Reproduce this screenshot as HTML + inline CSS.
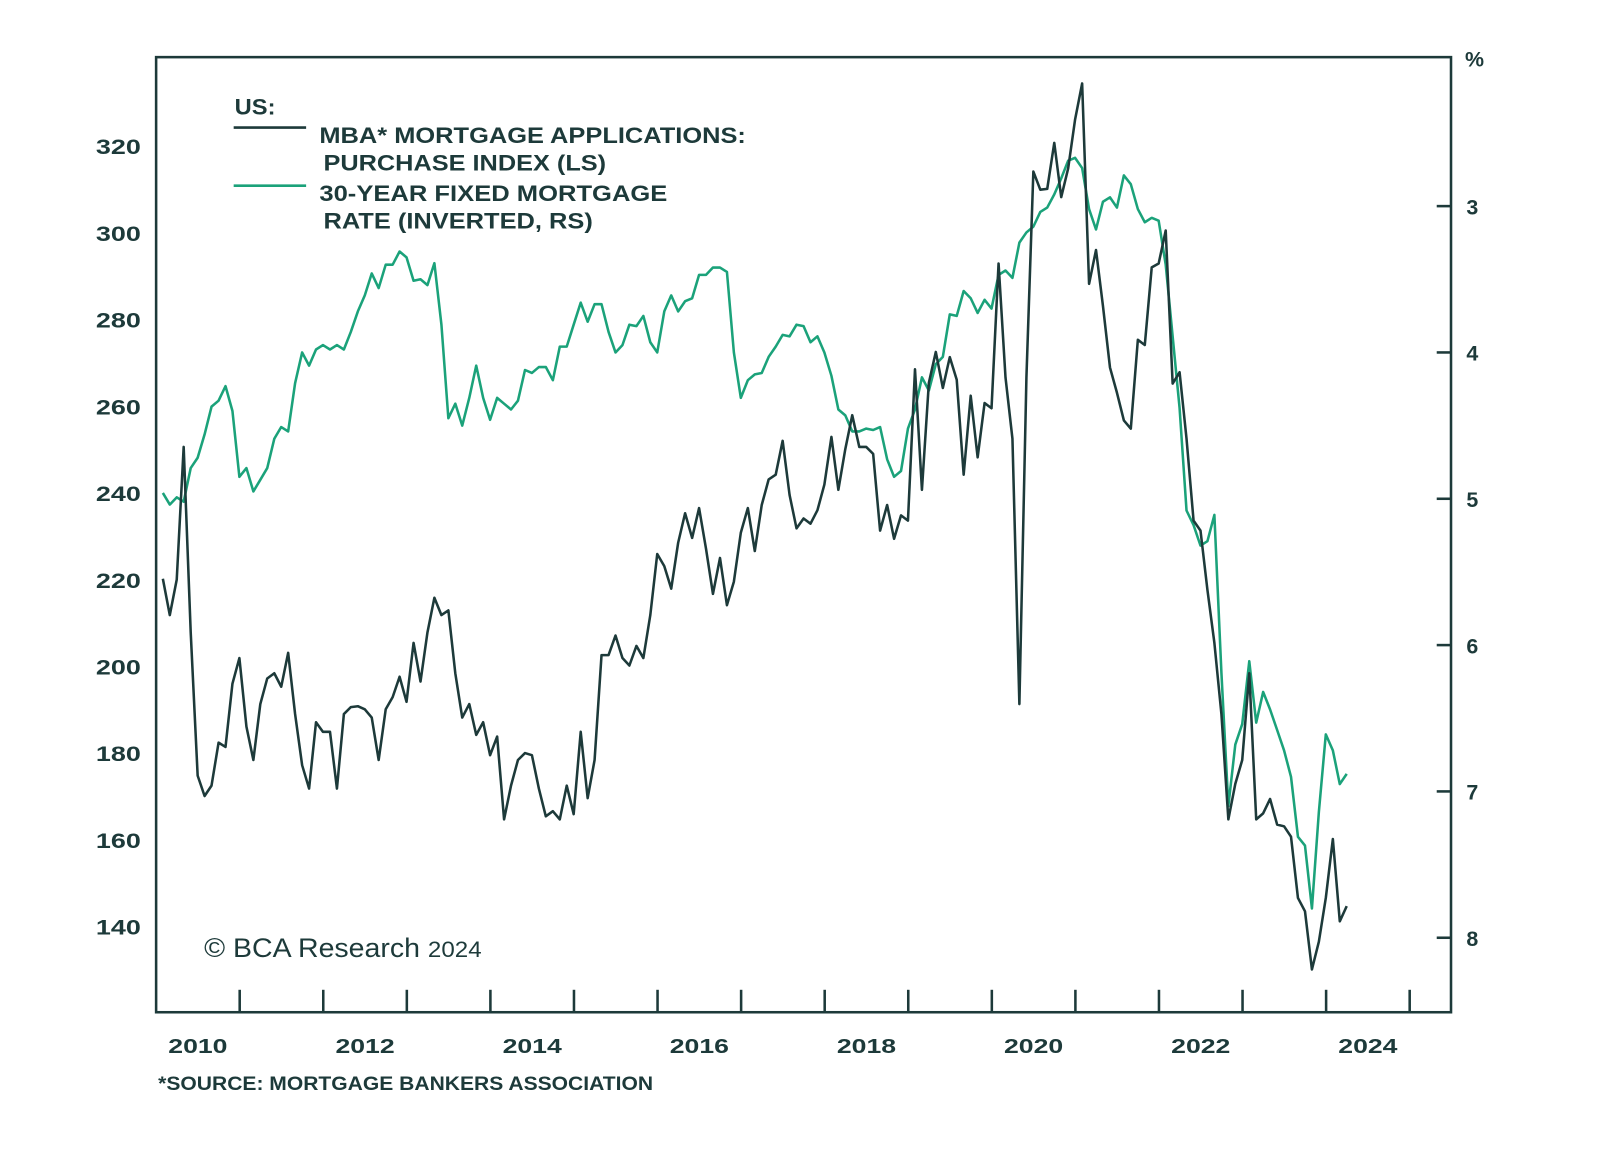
<!DOCTYPE html>
<html><head><meta charset="utf-8">
<style>
html,body{margin:0;padding:0;background:#fff;}
svg{display:block;}
text{font-family:"Liberation Sans","DejaVu Sans",sans-serif;fill:#1d3a3a;}
</style></head>
<body>
<svg id="chart" width="1600" height="1158" viewBox="0 0 1600 1158" xmlns="http://www.w3.org/2000/svg">
 <g transform="scale(1.0204)">
  <rect x="153" y="56" width="1269" height="936" fill="none" stroke="#1d3a3a" stroke-width="2.5"/>
  <g id="ticks"></g>
  <g id="series"></g>
  <g>
    <text x="230" y="112" font-size="22" font-weight="bold" textLength="40" lengthAdjust="spacingAndGlyphs">US:</text>
    <line x1="229" y1="125" x2="300" y2="125" stroke="#1d3a3a" stroke-width="2.5"/>
    <text x="313" y="140" font-size="22" font-weight="bold" textLength="418" lengthAdjust="spacingAndGlyphs">MBA* MORTGAGE APPLICATIONS:</text>
    <text x="317" y="167" font-size="22" font-weight="bold" textLength="277" lengthAdjust="spacingAndGlyphs">PURCHASE INDEX (LS)</text>
    <line x1="229" y1="182" x2="300" y2="182" stroke="#1ba27a" stroke-width="2.5"/>
    <text x="313" y="197" font-size="22" font-weight="bold" textLength="341" lengthAdjust="spacingAndGlyphs">30-YEAR FIXED MORTGAGE</text>
    <text x="317" y="224" font-size="22" font-weight="bold" textLength="264" lengthAdjust="spacingAndGlyphs">RATE (INVERTED, RS)</text>
  </g>
  <text x="200" y="938" font-size="26" font-family="Liberation Serif, serif" textLength="272" lengthAdjust="spacingAndGlyphs">© BCΑ Research <tspan font-size="22">2024</tspan></text>
  <text x="1445" y="65" font-size="21" font-weight="bold" text-anchor="middle">%</text>
  <text x="155" y="1068" font-size="19" font-weight="bold" textLength="485" lengthAdjust="spacingAndGlyphs">*SOURCE: MORTGAGE BANKERS ASSOCIATION</text>
 </g>
</svg>
<script>
const startYear = 2010.08;
const purchaseIndex = [220.2,211.8,220,250.6,207.8,174.8,170.1,172.5,182.4,181.4,
196,201.9,186.1,178.4,191.3,197.2,198.4,195.3,203.1,189,
177.2,171.8,187.1,184.9,184.9,171.8,189,190.6,190.8,190.1,
188.2,178.4,190.1,192.9,197.6,191.8,205.4,196.5,207.8,215.8,
211.8,212.9,198.4,188.2,191.3,184.2,187.1,179.5,183.8,164.7,
172.5,178.4,180,179.5,171.8,165.4,166.6,164.7,172.5,165.9,
184.9,169.6,178.4,202.6,202.6,207.1,201.9,200.2,204.7,201.9,
211.8,225.9,223.1,217.9,228.5,235.3,229.6,236.5,227.1,216.7,
225,214.1,219.5,230.8,236.5,226.6,237.2,243.1,244.2,252,
239.5,231.8,234.1,232.9,236,241.9,252.9,240.7,250.1,257.9,
250.6,250.6,249,231.3,237.2,229.4,234.8,233.6,268.5,240.7,
265.4,272.5,264.2,271.3,266.1,244.2,262.4,248.2,260.7,259.5,
292.9,266.6,252.5,191.3,266.6,314.1,309.9,310.1,320.7,308.2,
314.8,326.1,334.4,288.2,296,283.1,268.9,263.1,256.7,254.8,
275.3,274.1,292,292.9,300.5,265.2,267.8,252.5,233.6,231.3,
217.6,205.4,189,164.7,172.9,178.4,198.4,164.7,166.1,169.4,
163.5,163.1,160.7,146.6,143.5,130.1,136.5,146.6,160.2,141.2,
144.7];
const mortgageRate = [4.96,5.04,4.99,5.02,4.79,4.72,4.56,4.37,4.33,4.23,
4.40,4.85,4.79,4.95,4.87,4.79,4.59,4.51,4.54,4.21,
4.00,4.09,3.98,3.95,3.98,3.95,3.98,3.86,3.72,3.61,
3.46,3.56,3.40,3.40,3.31,3.35,3.51,3.50,3.54,3.39,
3.81,4.45,4.35,4.50,4.31,4.09,4.31,4.46,4.31,4.35,
4.39,4.33,4.12,4.14,4.10,4.10,4.19,3.96,3.96,3.81,
3.66,3.79,3.67,3.67,3.86,4.00,3.95,3.81,3.82,3.75,
3.93,4.00,3.72,3.61,3.72,3.65,3.63,3.47,3.47,3.42,
3.42,3.45,4.00,4.31,4.19,4.15,4.14,4.03,3.96,3.88,
3.89,3.81,3.82,3.93,3.89,4.00,4.16,4.39,4.43,4.54,
4.54,4.52,4.53,4.51,4.73,4.85,4.81,4.52,4.39,4.17,
4.26,4.08,4.03,3.74,3.75,3.58,3.63,3.73,3.64,3.70,
3.47,3.44,3.49,3.25,3.18,3.14,3.04,3.01,2.92,2.81,
2.69,2.67,2.74,3.02,3.16,2.97,2.94,3.01,2.79,2.85,
3.02,3.11,3.08,3.10,3.40,3.89,4.38,5.08,5.18,5.32,
5.29,5.11,6.19,7.10,6.68,6.54,6.11,6.53,6.32,6.44,
6.58,6.72,6.90,7.31,7.37,7.80,7.14,6.61,6.72,6.95,
6.88];
const leftTicks = [140,160,180,200,220,240,260,280,300,320];
const rightTicks = [3,4,5,6,7,8];
const yearLabels = [2010,2012,2014,2016,2018,2020,2022,2024];
const yearTicks = [2011,2012,2013,2014,2015,2016,2017,2018,2019,2020,2021,2022,2023,2024,2025];

const NS = "http://www.w3.org/2000/svg";
const xScale = t => 153 + (t - 2010) * 81.9;
const yLeft = v => 143 + (320 - v) * 4.25;
const yRight = r => 202 + (r - 3) * 143.4;
const dateAt = i => startYear + i / 12;

function mk(tag, attrs, parent) {
  const el = document.createElementNS(NS, tag);
  for (const k in attrs) el.setAttribute(k, attrs[k]);
  parent.appendChild(el);
  return el;
}
const ticks = document.getElementById('ticks');
const series = document.getElementById('series');

leftTicks.forEach(v => {
  const t = mk('text', {x: 138, y: yLeft(v) + 8, 'font-size': 21, 'font-weight': 'bold', 'text-anchor': 'end', textLength: 44, lengthAdjust: 'spacingAndGlyphs'}, ticks);
  
  
  t.textContent = v;
});
rightTicks.forEach(r => {
  const l = mk('line', {x1: 1408, x2: 1422, y1: yRight(r), y2: yRight(r), stroke: '#1d3a3a', 'stroke-width': 2.5}, ticks);
  
  
  const t = mk('text', {x: 1437, y: yRight(r) + 8, 'font-size': 21, 'font-weight': 'bold'}, ticks);
  
  
  t.textContent = r;
});
yearTicks.forEach(y => {
  const l = mk('line', {x1: xScale(y), x2: xScale(y), y1: 970, y2: 992, stroke: '#1d3a3a', 'stroke-width': 2.5}, ticks);
  
  
});
yearLabels.forEach(y => {
  const t = mk('text', {x: xScale(y + 0.5), y: 1032, 'font-size': 20, 'font-weight': 'bold', 'text-anchor': 'middle', textLength: 58, lengthAdjust: 'spacingAndGlyphs'}, ticks);
  
  
  t.textContent = y;
});

const ratePts = mortgageRate.map((r, i) => xScale(dateAt(i)).toFixed(1) + ',' + yRight(r).toFixed(1)).join(' ');
const rateLine = mk('polyline', {points: ratePts, fill: 'none', stroke: '#1ba27a', 'stroke-width': 2.5, 'stroke-linejoin': 'round'}, series);



const purPts = purchaseIndex.map((v, i) => xScale(dateAt(i)).toFixed(1) + ',' + yLeft(v).toFixed(1)).join(' ');
const purLine = mk('polyline', {points: purPts, fill: 'none', stroke: '#1d3a3a', 'stroke-width': 2.5, 'stroke-linejoin': 'round'}, series);


</script>
</body></html>
